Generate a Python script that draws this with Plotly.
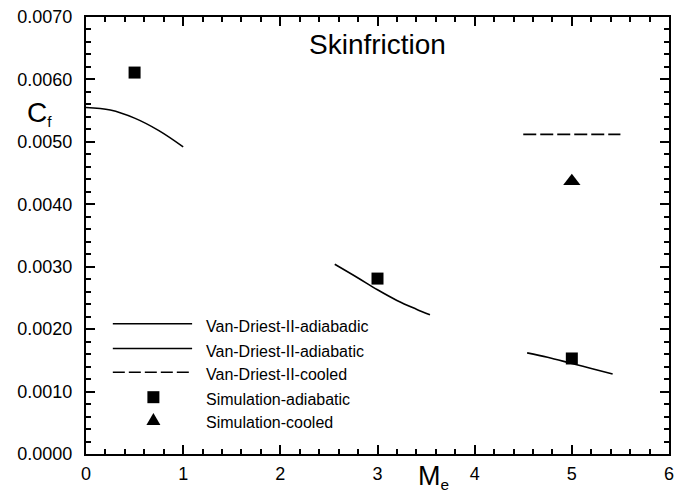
import plotly.graph_objects as go

# ---- data ----
mach_vd_adiabadic = [0.0, 0.25, 0.5, 0.75, 1.0]
cf_vd_adiabadic = [0.00555, 0.00551, 0.00538, 0.00518, 0.00492]

mach_vd_adiabatic_a = [2.56, 2.8, 3.0, 3.2, 3.4, 3.54]
cf_vd_adiabatic_a = [0.00304, 0.00282, 0.00263, 0.00246, 0.00232, 0.00223]

mach_vd_adiabatic_b = [4.54, 4.75, 5.0, 5.2, 5.42]
cf_vd_adiabatic_b = [0.00162, 0.00155, 0.00145, 0.00137, 0.00128]

mach_vd_cooled = [4.5, 5.5]
cf_vd_cooled = [0.00512, 0.00512]

mach_sim_adiabatic = [0.5, 3.0, 5.0]
cf_sim_adiabatic = [0.00611, 0.00281, 0.00153]

mach_sim_cooled = [5.0]
cf_sim_cooled = [0.00437]

legend_labels = ["Van-Driest-II-adiabadic", "Van-Driest-II-adiabatic",
                 "Van-Driest-II-cooled", "Simulation-adiabatic", "Simulation-cooled"]

x_tick_vals = [0, 1, 2, 3, 4, 5, 6]
y_tick_vals = [0.0, 0.001, 0.002, 0.003, 0.004, 0.005, 0.006, 0.007]

FONT = "Liberation Sans, Arial, sans-serif"
BLACK = "black"

fig = go.Figure()

line_style = dict(color=BLACK, width=1.6)
dash_style = dict(color=BLACK, width=1.6, dash="13px,4px")

fig.add_trace(go.Scatter(x=mach_vd_adiabadic, y=cf_vd_adiabadic, mode="lines",
                         line=dict(line_style, shape="spline")))
fig.add_trace(go.Scatter(x=mach_vd_adiabatic_a, y=cf_vd_adiabatic_a, mode="lines",
                         line=dict(line_style, shape="spline")))
fig.add_trace(go.Scatter(x=mach_vd_adiabatic_b, y=cf_vd_adiabatic_b, mode="lines",
                         line=dict(line_style, shape="spline")))
fig.add_trace(go.Scatter(x=mach_vd_cooled, y=cf_vd_cooled, mode="lines", line=dash_style))
fig.add_trace(go.Scatter(x=mach_sim_adiabatic, y=cf_sim_adiabatic, mode="markers",
                         marker=dict(symbol="square", size=12, color=BLACK)))
fig.add_trace(go.Scatter(x=mach_sim_cooled, y=cf_sim_cooled, mode="markers",
                         marker=dict(symbol="triangle-up", size=15, color=BLACK)))

# ---- hand-drawn legend (paper coordinates) ----
rows_y = [0.298, 0.2415, 0.187, 0.130, 0.078]
lx0, lx1, lmark, ltext = 0.046, 0.182, 0.1156, 0.2024
styles = ["line", "line", "dash", "square", "triangle"]
for lab, yy, st in zip(legend_labels, rows_y, styles):
    if st in ("line", "dash"):
        fig.add_shape(type="line", xref="paper", yref="paper", x0=lx0, x1=lx1, y0=yy, y1=yy,
                      line=line_style if st == "line" else dict(color=BLACK, width=1.6, dash="12px,4px"))
    elif st == "square":
        fig.add_shape(type="rect", xref="paper", yref="paper", xsizemode="pixel", ysizemode="pixel",
                      xanchor=lmark, yanchor=yy, x0=-6, x1=6, y0=-6, y1=6,
                      fillcolor=BLACK, line=dict(width=0))
    else:
        fig.add_shape(type="path", xref="paper", yref="paper", xsizemode="pixel", ysizemode="pixel",
                      xanchor=lmark, yanchor=yy, path="M-7,-5 L7,-5 L0,7 Z",
                      fillcolor=BLACK, line=dict(width=0))
    fig.add_annotation(x=ltext, y=yy - 0.006, xref="paper", yref="paper", text=lab,
                       showarrow=False, xanchor="left", yanchor="middle",
                       font=dict(family=FONT, size=16, color=BLACK))

# title inside plot
fig.add_annotation(x=3.0, y=0.936, xref="x", yref="paper", text="Skinfriction",
                   showarrow=False, xanchor="center", yanchor="middle",
                   font=dict(family=FONT, size=28, color=BLACK))
# axis labels
fig.add_annotation(x=-0.104, y=0.78, xref="paper", yref="paper",
                   text="C<span style='font-size:22px'><sub>f</sub></span>",
                   showarrow=False, xanchor="left", yanchor="middle",
                   font=dict(family=FONT, size=28, color=BLACK))
fig.add_annotation(x=0.566, y=-0.012, xref="paper", yref="paper",
                   text="M<span style='font-size:22px'><sub>e</sub></span>",
                   showarrow=False, xanchor="left", yanchor="top",
                   font=dict(family=FONT, size=27, color=BLACK))

fig.update_layout(
    width=681, height=501,
    margin=dict(l=86, r=7, t=15, b=47),
    paper_bgcolor="white", plot_bgcolor="white",
    showlegend=False,
    xaxis=dict(range=[0, 6], tickvals=x_tick_vals, showline=True, linecolor=BLACK, linewidth=2,
               mirror="ticks", ticks="inside", ticklen=9, tickwidth=2, tickcolor=BLACK,
               minor=dict(ticks="inside", ticklen=5, dtick=0.2, tickcolor=BLACK),
               tickfont=dict(family=FONT, size=18, color=BLACK), ticklabelstandoff=2),
    yaxis=dict(range=[0, 0.007], tickvals=y_tick_vals, tickformat=".4f", showline=True,
               linecolor=BLACK, linewidth=2,
               mirror="ticks", ticks="inside", ticklen=9, tickwidth=2, tickcolor=BLACK,
               minor=dict(ticks="inside", ticklen=5, dtick=0.0002, tickcolor=BLACK),
               tickfont=dict(family=FONT, size=18, color=BLACK), ticklabelstandoff=8),
)

fig.write_html("out.html")
